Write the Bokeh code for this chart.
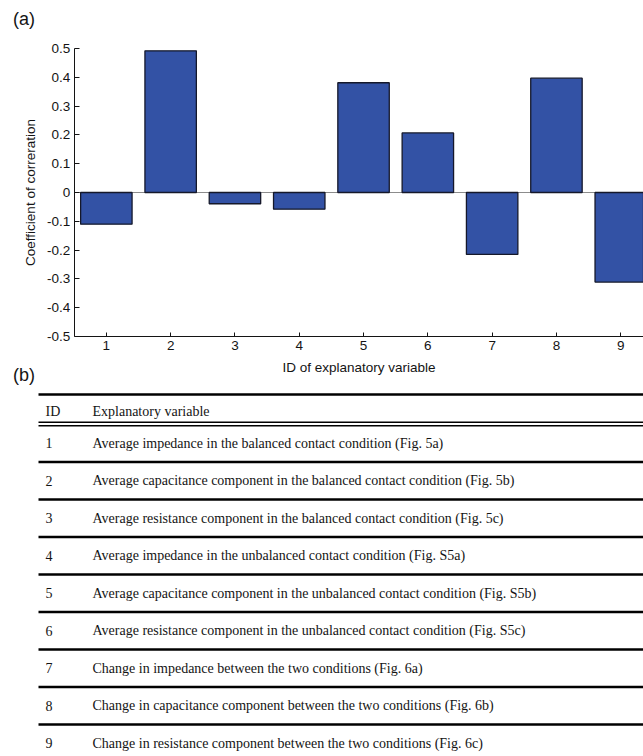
from bokeh.plotting import figure
from bokeh.models import Range1d, FixedTicker
from bokeh.embed import file_html
from bokeh.resources import INLINE
from bokeh.core.properties import value

# ---------------- data ----------------
ids = [1, 2, 3, 4, 5, 6, 7, 8, 9]
coefficients = [-0.11, 0.492, -0.039, -0.058, 0.381, 0.207, -0.215, 0.397, -0.311]
y_ticks = [-0.5, -0.4, -0.3, -0.2, -0.1, 0, 0.1, 0.2, 0.3, 0.4, 0.5]
y_tick_labels = ["-0.5", "-0.4", "-0.3", "-0.2", "-0.1", "0", "0.1", "0.2", "0.3", "0.4", "0.5"]
panel_labels = ["(a)", "(b)"]
table_header = ["ID", "Explanatory variable"]
descriptions = [
    "Average impedance in the balanced contact condition (Fig. 5a)",
    "Average capacitance component in the balanced contact condition (Fig. 5b)",
    "Average resistance component in the balanced contact condition (Fig. 5c)",
    "Average impedance in the unbalanced contact condition (Fig. S5a)",
    "Average capacitance component in the unbalanced contact condition (Fig. S5b)",
    "Average resistance component in the unbalanced contact condition (Fig. S5c)",
    "Change in impedance between the two conditions (Fig. 6a)",
    "Change in capacitance component between the two conditions (Fig. 6b)",
    "Change in resistance component between the two conditions (Fig. 6c)",
]

# ---------------- layout constants (pixels) ----------------
W, H = 643, 756
AXIS_X_PX = 73.7       # pixel column of the y axis (x = 0.5)
PX_PER_ID = 64.3
ZERO_Y_PX = 192.0      # pixel row of y = 0
PX_PER_UNIT_Y = 288.0
SANS = "Liberation Sans"
SERIF = "Liberation Serif"
INK = "#141414"
FS = "13.5px"

x0 = 0.5 - AXIS_X_PX / PX_PER_ID
x1 = x0 + W / PX_PER_ID
y_top = ZERO_Y_PX / PX_PER_UNIT_Y
y_bot = y_top - H / PX_PER_UNIT_Y

p = figure(width=W, height=H, x_range=Range1d(x0, x1), y_range=Range1d(y_bot, y_top),
           output_backend="svg", toolbar_location=None, title=None,
           min_border=0, min_border_left=0, min_border_right=0,
           min_border_top=0, min_border_bottom=0)
p.outline_line_color = None
p.grid.visible = False
p.extra_x_ranges = {"px": Range1d(0, W)}
p.extra_y_ranges = {"py": Range1d(H, 0)}

# ---------------- chart (a) ----------------
p.segment(x0=[0.5], x1=[x1], y0=[0], y1=[0], line_color="#8c8c8c", line_width=1.2)
p.vbar(x=ids, top=coefficients, bottom=0, width=0.8,
       fill_color="#3352a5", line_color="#15182a", line_width=1.3)

for ax in (p.xaxis[0], p.yaxis[0]):
    ax.major_tick_out = 0
    ax.minor_tick_line_color = None
    ax.major_label_standoff = 4
    ax.axis_label_text_font = SANS
    ax.axis_label_text_font_size = FS
    ax.axis_label_text_font_style = "normal"
    ax.axis_label_text_color = INK
    ax.major_label_text_font = SANS
    ax.major_label_text_font_size = FS
    ax.major_label_text_color = INK
    ax.axis_line_color = INK
    ax.major_tick_line_color = INK

xa = p.xaxis[0]
xa.fixed_location = -0.5
xa.bounds = (0.5, x1)
xa.ticker = FixedTicker(ticks=ids)
xa.major_tick_in = 4
xa.axis_label = "ID of explanatory variable"
xa.axis_label_standoff = 7

ya = p.yaxis[0]
ya.fixed_location = 0.5
ya.bounds = (-0.5, 0.5)
ya.ticker = FixedTicker(ticks=y_ticks)
ya.major_label_overrides = dict(zip(y_ticks, y_tick_labels))
ya.major_tick_in = 5
ya.axis_label = "Coefficient of correration"
ya.axis_label_standoff = 6

# ---------------- panel labels ----------------
p.text(x=[12.5, 12.5], y=[18.5, 374], text=panel_labels, x_range_name="px", y_range_name="py",
       text_font=value(SANS), text_font_size="18px", text_baseline="middle",
       text_align="left", text_color=INK)

# ---------------- table (b) ----------------
LINE_X0 = 38
COL_ID_X = 45
COL_DESC_X = 92
TOP_LINE_Y = 394
HEADER_Y = 410.7
DOUBLE_Y = (421.8, 425.2)
ROW0_Y = 442.7
ROW_STEP = 37.5
SEP_OFFSET = 18.8

row_y = [ROW0_Y + ROW_STEP * (i - 1) for i in ids]
sep_y = [y + SEP_OFFSET for y in row_y[:-1]]

p.segment(x0=[LINE_X0], x1=[W], y0=[TOP_LINE_Y], y1=[TOP_LINE_Y],
          x_range_name="px", y_range_name="py", line_color="black", line_width=2.4)
p.segment(x0=[LINE_X0] * 2, x1=[W] * 2, y0=list(DOUBLE_Y), y1=list(DOUBLE_Y),
          x_range_name="px", y_range_name="py", line_color="black", line_width=1.4)
p.segment(x0=[LINE_X0] * len(sep_y), x1=[W] * len(sep_y), y0=sep_y, y1=sep_y,
          x_range_name="px", y_range_name="py", line_color="black", line_width=2.4)

text_kw = dict(x_range_name="px", y_range_name="py", text_font=value(SERIF),
               text_font_size="14px", text_baseline="middle", text_align="left",
               text_color=INK)
p.text(x=[COL_ID_X, COL_DESC_X], y=[HEADER_Y, HEADER_Y], text=table_header, **text_kw)
p.text(x=[COL_ID_X] * len(ids), y=row_y, text=[str(i) for i in ids], **text_kw)
p.text(x=[COL_DESC_X] * len(ids), y=row_y, text=descriptions, **text_kw)

open("out.html", "w").write(file_html(p, INLINE))
